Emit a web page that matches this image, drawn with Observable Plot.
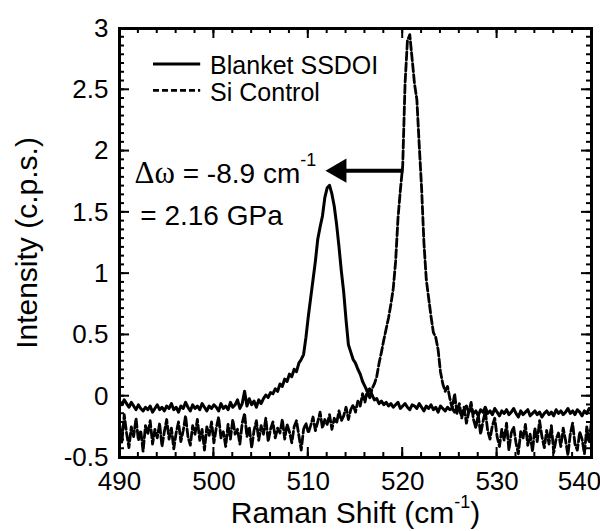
<!DOCTYPE html>
<html><head><meta charset="utf-8">
<script src="https://cdn.jsdelivr.net/npm/d3@7"></script>
<script src="https://cdn.jsdelivr.net/npm/@observablehq/plot@0.6"></script>
<style>body{margin:0;background:#fff}#chart svg{display:block}</style>
</head><body><div id="chart"></div>
<script>
// Raman shift grid (cm^-1): first point and spacing
const shiftStart = 490, shiftStep = 0.25;

// Blanket SSDOI intensity (c.p.s.), one value per grid point (490 ... 540)
const blanketSSDOI = [
-0.04,-0.07,-0.03,-0.06,-0.09,-0.05,-0.08,-0.11,-0.07,-0.10,-0.12,-0.09,-0.11,-0.08,-0.13,-0.10,-0.07,-0.11,-0.09,-0.12,-0.08,
-0.10,-0.06,-0.11,-0.09,-0.13,-0.08,-0.10,-0.05,-0.09,-0.12,-0.07,-0.10,-0.08,-0.11,-0.06,-0.09,-0.12,-0.08,-0.10,-0.07,
-0.09,-0.12,-0.06,-0.10,-0.08,-0.11,-0.05,-0.09,-0.07,-0.03,-0.10,-0.06,0.04,-0.08,-0.02,-0.07,-0.04,-0.09,-0.03,-0.06,
-0.02,0.01,-0.01,0.03,0.02,0.06,0.04,0.10,0.08,0.14,
0.12,0.18,0.16,0.22,0.20,0.27,0.30,0.34,0.48,0.65,
0.80,0.95,1.10,1.28,1.38,1.47,1.62,1.70,1.72,1.65,
1.55,1.40,1.22,1.02,0.85,0.62,0.42,0.36,0.30,0.27,
0.22,0.18,0.12,0.08,0.04,0.06,0.01,-0.03,-0.02,-0.06,
-0.04,-0.07,-0.05,-0.08,-0.06,-0.09,-0.07,-0.05,-0.10,-0.08,-0.06,-0.09,-0.11,-0.07,-0.08,-0.10,-0.06,-0.09,-0.12,-0.08,
-0.10,-0.07,-0.11,-0.09,-0.13,-0.08,-0.10,-0.12,-0.09,-0.11,
-0.10,-0.13,-0.09,-0.12,-0.15,-0.11,-0.08,-0.13,-0.10,-0.14,-0.12,-0.16,-0.11,-0.13,-0.09,-0.14,-0.12,-0.15,-0.10,-0.13,
-0.16,-0.12,-0.14,-0.11,-0.15,-0.13,-0.10,-0.14,-0.17,-0.12,-0.15,-0.13,-0.11,-0.16,-0.14,-0.12,-0.15,-0.13,-0.17,-0.14,
-0.12,-0.15,-0.13,-0.16,-0.11,-0.14,-0.12,-0.15,-0.13,-0.10,-0.14,-0.12,-0.15,-0.11,-0.13,-0.16,-0.12,-0.14,-0.10,-0.12
];

// Si Control intensity (c.p.s.), same grid
const siControl = [
-0.22,-0.38,-0.15,-0.30,-0.42,-0.25,-0.33,-0.18,-0.36,-0.28,-0.45,-0.24,-0.31,-0.20,-0.39,-0.27,-0.34,-0.22,-0.41,-0.29,
-0.19,-0.35,-0.26,-0.43,-0.30,-0.21,-0.37,-0.28,-0.16,-0.33,-0.40,-0.24,-0.31,-0.19,-0.36,-0.27,-0.44,-0.25,-0.32,-0.21,
-0.38,-0.26,-0.17,-0.34,-0.29,-0.41,-0.23,-0.35,-0.19,-0.31,-0.27,-0.39,-0.22,-0.14,-0.33,-0.25,-0.42,-0.28,-0.20,-0.36,
-0.24,-0.31,-0.18,-0.37,-0.27,-0.21,-0.34,-0.26,-0.30,-0.19,-0.35,-0.23,-0.29,-0.38,-0.25,-0.20,-0.32,-0.44,-0.27,-0.22,
-0.30,-0.24,-0.17,-0.28,-0.21,-0.13,-0.26,-0.19,-0.23,-0.15,-0.27,-0.18,-0.22,-0.12,-0.20,-0.16,-0.09,-0.19,-0.11,-0.07,
-0.13,-0.04,-0.08,0.02,-0.05,0.05,-0.02,0.06,0.10,0.16,
0.27,0.36,0.46,0.55,0.64,0.75,0.88,1.10,1.45,1.68,1.88,2.55,2.90,2.95,2.75,2.55,2.42,2.05,1.70,1.25,
0.95,0.80,0.65,0.52,0.48,0.38,0.20,0.10,0.04,0.08,-0.02,
-0.10,0.02,-0.14,-0.06,-0.18,-0.09,-0.22,-0.13,-0.05,-0.19,-0.26,-0.15,-0.31,-0.21,-0.12,-0.28,-0.35,-0.24,-0.18,-0.33,
-0.41,-0.27,-0.36,-0.22,-0.44,-0.30,-0.25,-0.38,-0.47,-0.29,-0.34,-0.23,-0.40,-0.31,-0.45,-0.26,-0.37,-0.20,-0.33,-0.42,
-0.28,-0.39,-0.24,-0.46,-0.35,-0.30,-0.41,-0.26,-0.36,-0.48,-0.31,-0.22,-0.39,-0.44,-0.29,-0.35,-0.47,-0.25,-0.38,-0.20
];

const seriesNames = ["Blanket SSDOI", "Si Control"];
const xDomain = [490, 540];
const yDomain = [-0.5, 3];
const xMajorTicks = [490, 500, 510, 520, 530, 540];
const yMajorTicks = [-0.5, 0, 0.5, 1, 1.5, 2, 2.5, 3];
const xTitle = "Raman Shift (cm-1)";
const yTitle = "Intensity (c.p.s.)";
const annot1 = "Δω = -8.9 cm-1";
const annot2 = "= 2.16 GPa";

// build tables for the library
const toRows = (vals, name) => vals.map((v, i) => ({shift: shiftStart + i * shiftStep, intensity: v, series: name}));
const rowsA = toRows(blanketSSDOI, seriesNames[0]);
const rowsB = toRows(siControl, seriesNames[1]);
const xMinor = d3.range(490, 540.001, 2);
const yMinor = d3.range(0, 50).map(i => -0.5 + i * 0.5 / 7).filter(v => v <= 3.0001);

// layout
const W = 600, H = 531, mL = 119, mR = 9, mT = 28, mB = 74;
const majorLen = 10, minorLen = 5;
const font = "Liberation Sans, Arial, Helvetica, sans-serif";
const legendLayout = {x1: 493.6, x2: 498.6, xt: 499.6, y: [2.71, 2.495]};
const arrowLayout = {tail: 520.1, neck: 513.5, head: 513.3, y: 1.84};

const plot = Plot.plot({
  width: W, height: H, marginLeft: mL, marginRight: mR, marginTop: mT, marginBottom: mB,
  x: {domain: xDomain},
  y: {domain: yDomain},
  style: {fontFamily: font, background: "white", color: "black"},
  marks: [
    // data
    Plot.line(rowsB, {x: "shift", y: "intensity", stroke: "black", strokeWidth: 2.8, strokeDasharray: "8,3", clip: true}),
    Plot.line(rowsA, {x: "shift", y: "intensity", stroke: "black", strokeWidth: 3, clip: true}),
    // tick labels
    Plot.axisX(xMajorTicks.filter(d => d < 540), {anchor: "bottom", tickSize: 0, tickPadding: 14, fontSize: 26, label: null, tickFormat: d => String(d)}),
    Plot.axisX([540], {anchor: "bottom", tickSize: 0, tickPadding: 14, fontSize: 26, label: null, dx: -12, tickFormat: d => String(d)}),
    Plot.axisY(yMajorTicks, {anchor: "left", tickSize: 0, tickPadding: 11, fontSize: 26, label: null, tickFormat: d => String(d)}),
    // axis titles
    Plot.text([xTitle], {frameAnchor: "bottom", lineAnchor: "middle", dy: 56, fontSize: 30, text: d => d}),
    Plot.text([yTitle], {frameAnchor: "left", textAnchor: "middle", lineAnchor: "middle", rotate: -90, dx: -92, fontSize: 30, text: d => d}),
    // legend
    Plot.ruleY([legendLayout.y[0]], {x1: legendLayout.x1, x2: legendLayout.x2, stroke: "black", strokeWidth: 3}),
    Plot.ruleY([legendLayout.y[1]], {x1: legendLayout.x1, x2: legendLayout.x2, stroke: "black", strokeWidth: 2.8, strokeDasharray: "6,3"}),
    Plot.text(seriesNames, {x: legendLayout.xt, y: (d, i) => legendLayout.y[i] - 0.02, text: d => d, textAnchor: "start", fontSize: 25}),
    // annotation
    Plot.link([arrowLayout], {x1: "tail", x2: "neck", y1: "y", y2: "y", stroke: "black", strokeWidth: 4}),
    Plot.dot([arrowLayout], {x: "head", y: "y", symbol: "triangle", rotate: -90, r: 9, fill: "black", stroke: "none"}),
    Plot.text([annot1], {x: 491.6, y: 1.815, text: d => d, textAnchor: "start", fontSize: 28}),
    Plot.text([annot2], {x: 492.2, y: 1.47, text: d => d, textAnchor: "start", fontSize: 28}),
    Plot.frame({stroke: "black", strokeWidth: 3})
  ]
});

// inward ticks on all four sides, placed through the plot's own scales
const sx = plot.scale("x"), sy = plot.scale("y");
const tg = d3.select(plot).append("g").attr("stroke", "black").attr("stroke-width", 2).attr("fill", "none");
function ticksX(ticks, len) {
  const yb = sy.apply(yDomain[0]), yt = sy.apply(yDomain[1]);
  ticks.forEach(t => {
    const X = sx.apply(t);
    tg.append("line").attr("x1", X).attr("x2", X).attr("y1", yb).attr("y2", yb - len);
    tg.append("line").attr("x1", X).attr("x2", X).attr("y1", yt).attr("y2", yt + len);
  });
}
function ticksY(ticks, len) {
  const xl = sx.apply(xDomain[0]), xr = sx.apply(xDomain[1]);
  ticks.forEach(t => {
    const Y = sy.apply(t);
    tg.append("line").attr("x1", xl).attr("x2", xl + len).attr("y1", Y).attr("y2", Y);
    tg.append("line").attr("x1", xr).attr("x2", xr - len).attr("y1", Y).attr("y2", Y);
  });
}
ticksX(xMajorTicks, majorLen);
ticksX(xMinor, minorLen);
ticksY(yMajorTicks, majorLen);
ticksY(yMinor, minorLen);

function rich(svg, plain, parts) {
  svg.querySelectorAll("text").forEach(t => {
    if (t.textContent === plain) {
      while (t.firstChild) t.removeChild(t.firstChild);
      parts.forEach(p => {
        const ts = document.createElementNS("http://www.w3.org/2000/svg", "tspan");
        ts.textContent = p.text;
        if (p.font) ts.setAttribute("font-family", p.font);
        if (p.size) ts.setAttribute("font-size", p.size);
        if (p.dy) ts.setAttribute("dy", p.dy);
        t.appendChild(ts);
      });
    }
  });
}
rich(plot, xTitle, [{text: "Raman Shift (cm"}, {text: "-1", size: 18, dy: -15}, {text: ")", dy: 15}]);
rich(plot, annot1, [{text: "Δω", font: "Liberation Serif, Times New Roman, serif", size: 31}, {text: " = -8.9 cm"}, {text: "-1", size: 18, dy: -17}]);

document.getElementById("chart").appendChild(plot);
</script>
</body></html>
